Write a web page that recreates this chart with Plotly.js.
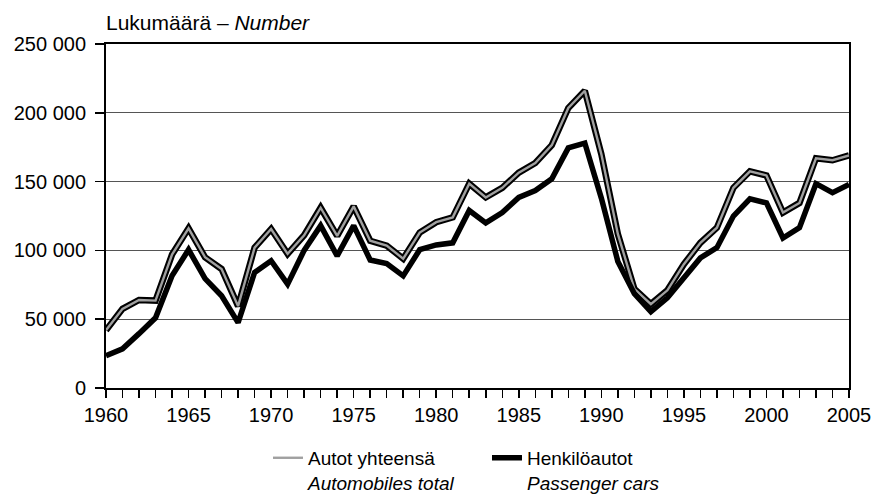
<!DOCTYPE html>
<html>
<head>
<meta charset="utf-8">
<script src="https://cdn.plot.ly/plotly-3.0.1.min.js"></script>
<style>html,body{margin:0;padding:0;background:#fff;}#chart{width:882px;height:501px;}</style>
</head>
<body>
<div id="chart"></div>
<script>
const years = [1960,1961,1962,1963,1964,1965,1966,1967,1968,1969,1970,1971,1972,1973,1974,1975,1976,1977,1978,1979,1980,1981,1982,1983,1984,1985,1986,1987,1988,1989,1990,1991,1992,1993,1994,1995,1996,1997,1998,1999,2000,2001,2002,2003,2004,2005];
const automobilesTotal = [42000,57500,64000,63500,97000,116000,95000,86500,59500,102000,115500,97500,111000,131000,110500,132000,107000,103500,94000,113000,120500,124000,148500,138500,145500,156500,163500,176500,203500,216000,170000,112000,72000,61000,71000,90000,105500,116500,145500,157500,154500,127500,134500,167000,165500,169000];
const passengerCars = [23500,28500,39500,51000,81500,100500,79500,67000,47500,84000,92500,75500,100000,118000,96000,118000,93000,90500,81500,100500,104000,105500,129000,120000,127500,138500,143500,152000,174500,178000,138000,92000,68500,55500,65500,80000,94500,102000,125000,137500,134500,109000,116500,148500,142000,148000];
const nameTotal = 'Autot yhteensä<br><i>Automobiles total</i>';
const namePassenger = 'Henkilöautot<br><i>Passenger cars</i>';
const titleText = 'Lukumäärä – <i>Number</i>';
const yTicks = [0,50000,100000,150000,200000,250000];

const font = 'Liberation Sans, Arial, Helvetica, sans-serif';

const traces = [
  {x: years, y: automobilesTotal, type: 'scatter', mode: 'lines', name: nameTotal,
   line: {color: '#000', width: 6.5}, showlegend: false, hoverinfo: 'skip'},
  {x: years, y: automobilesTotal, type: 'scatter', mode: 'lines', name: nameTotal,
   line: {color: '#a0a0a0', width: 2.4}},
  {x: years, y: passengerCars, type: 'scatter', mode: 'lines', name: namePassenger,
   line: {color: '#000', width: 5.5}}
];

const layout = {
  width: 882, height: 501,
  margin: {l: 106, r: 33, t: 44, b: 113, autoexpand: false},
  paper_bgcolor: '#fff', plot_bgcolor: '#fff',
  separators: '. ',
  font: {family: font, size: 20, color: '#000'},
  title: {text: titleText, font: {family: font, size: 21, color: '#000'},
          xref: 'paper', x: 0, xanchor: 'left', yref: 'container', y: 0.955, yanchor: 'middle'},
  xaxis: {range: [1960, 2005], tickmode: 'linear', tick0: 1960, dtick: 5,
          ticks: 'outside', ticklen: 8, tickwidth: 1.5, tickcolor: '#000',
          minor: {dtick: 1, ticks: 'outside', ticklen: 8, tickwidth: 1.5, tickcolor: '#000', showgrid: false},
          showline: true, linecolor: '#000', linewidth: 2, mirror: true,
          showgrid: false, zeroline: false, fixedrange: true,
          tickfont: {family: font, size: 20, color: '#000'}},
  yaxis: {range: [0, 250000], tickvals: yTicks, tickformat: ',d',
          ticks: 'outside', ticklen: 9, tickwidth: 1.5, tickcolor: '#000',
          ticklabelstandoff: 5,
          showline: true, linecolor: '#000', linewidth: 2, mirror: true,
          showgrid: true, gridcolor: '#555', gridwidth: 1, zeroline: false, fixedrange: true,
          tickfont: {family: font, size: 20, color: '#000'}},
  legend: {orientation: 'h', x: 0.218, xanchor: 'left', y: -0.148, yanchor: 'top',
           valign: 'top', entrywidth: 174, font: {family: font, size: 19, color: '#000'},
           bgcolor: 'rgba(0,0,0,0)', traceorder: 'normal'},
  showlegend: true
};

Plotly.newPlot('chart', traces, layout, {staticPlot: true, displayModeBar: false});
</script>
</body>
</html>
